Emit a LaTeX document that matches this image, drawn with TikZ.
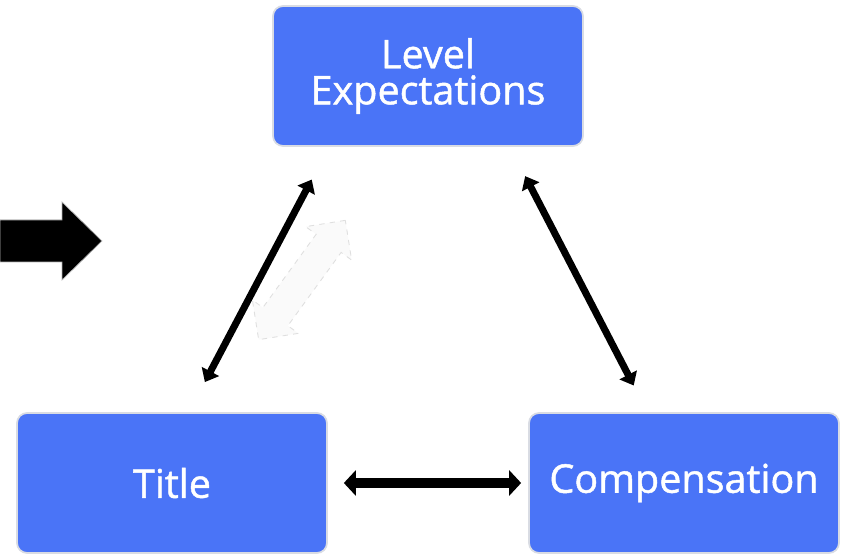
\documentclass[tikz,border=0pt]{standalone}
\usepackage{fontspec}
\setmainfont{Open Sans}
\newfontfamily\boxfont{Open Sans}[FakeBold=1.2]
\usetikzlibrary{arrows.meta,positioning,shapes.arrows,calc}
\definecolor{TriBlue}{HTML}{4A74F7}
\definecolor{TriEdge}{HTML}{D9DCE3}
\tikzset{
  rolebox/.style={draw=TriEdge,line width=1pt,fill=TriBlue,rounded corners=2mm,align=center,
    minimum width=6.2cm,minimum height=2.8cm,text=white,font=\boxfont\fontsize{22.5}{20.5}\selectfont},
  linkarrow/.style={{Triangle[length=2.4mm,width=3.8mm]}-{Triangle[length=2.4mm,width=3.8mm]},
    line width=4pt,draw=black},
  widearrow/.style={{Triangle[length=2.4mm,width=5mm]}-{Triangle[length=2.4mm,width=5mm]},
    line width=6pt,draw=black},
  ghostarrow/.style={double arrow,draw=gray!25,dashed,fill=gray!4,line width=0.5pt,
    minimum height=2.95cm,inner xsep=0pt,inner ysep=0.3cm,double arrow head extend=0.26cm}
}

\begin{document}
\begin{tikzpicture}[x=0.02cm,y=-0.02cm]
\useasboundingbox (0,0) rectangle (846,557);
% the three boxes of the triangle
\node[rolebox] (level) at (428,76) {Level\\Expectations};
\node[rolebox] (title) at (172,483) {Title};
\node[rolebox] (comp) at (684,483) {Compensation};
% links between them
\draw[linkarrow,shorten <=0.68cm,shorten >=0.74cm] ([xshift=0.34cm]title.north) -- ([xshift=-1.98cm]level.south);
\draw[linkarrow,shorten <=0.66cm,shorten >=0.6cm] ([xshift=1.64cm]level.south) -- ([xshift=-0.73cm]comp.north);
\draw[widearrow,shorten <=0.32cm,shorten >=0.14cm] (title.east) -- (comp.west);
% faint arrow beside the left link
\node[ghostarrow,rotate=54] (ghost) at (302,280) {};
% big arrow coming in from the left
\filldraw[fill=black,draw=gray!60,line width=0.4pt] (0,220) -- (62,220) -- (62,202) -- (102,241) -- (62,280) -- (62,262) -- (0,262) -- cycle;
\end{tikzpicture}
\end{document}
